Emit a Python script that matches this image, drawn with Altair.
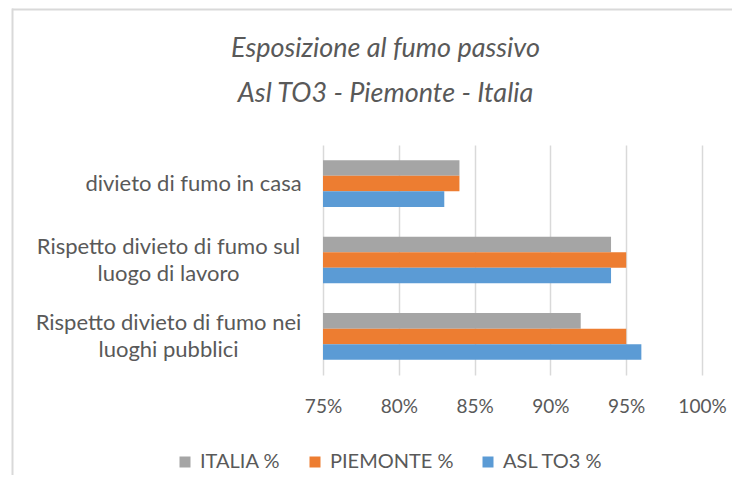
import altair as alt
import pandas as pd

# ---- data ----
categories = [
    "divieto di fumo in casa",
    "Rispetto divieto di fumo sul|luogo di lavoro",
    "Rispetto divieto di fumo nei|luoghi pubblici",
]
series = ["ITALIA %", "PIEMONTE %", "ASL TO3 %"]
italia = [84, 94, 92]
piemonte = [84, 95, 95]
asl_to3 = [83, 94, 96]
x_ticks = [75, 80, 85, 90, 95, 100]
colors = ["#A5A5A5", "#ED7D31", "#5B9BD5"]

rows = []
for vals, s in zip([italia, piemonte, asl_to3], series):
    for c, v in zip(categories, vals):
        rows.append({"categoria": c, "serie": s, "valore": v})
df = pd.DataFrame(rows)

FONT = "Lato"
TXT = "#595959"
TWO_LINE = "indexof(datum.value, '|') >= 0"

bars = alt.Chart(df).mark_bar().encode(
    y=alt.Y(
        "categoria:N",
        sort=categories,
        scale=alt.Scale(paddingInner=0.39, paddingOuter=0.2),
        axis=alt.Axis(
            title=None,
            domain=False,
            ticks=False,
            labelExpr="split(datum.label, '|')",
            labelAlign="center",
            labelBaseline="middle",
            labelPadding={"condition": {"test": TWO_LINE, "value": 155}, "value": 130},
            labelOffset={"condition": {"test": TWO_LINE, "value": -13.5}, "value": 0},
            labelLineHeight=27,
            labelLimit=400,
            labelFontSize=22,
            labelColor=TXT,
            labelFont=FONT,
        ),
    ),
    yOffset=alt.YOffset("serie:N", sort=series, scale=alt.Scale(paddingInner=0, paddingOuter=0)),
    x=alt.X(
        "valore:Q",
        scale=alt.Scale(domain=[75, 100], zero=False, nice=False),
        axis=alt.Axis(
            title=None,
            values=x_ticks,
            labelExpr="datum.value + '%'",
            domain=False,
            ticks=False,
            grid=True,
            gridColor="#D9D9D9",
            gridWidth=1.5,
            labelFontSize=19,
            labelColor=TXT,
            labelFont=FONT,
            labelPadding=22,
            labelFlush=False,
            labelOverlap=False,
        ),
    ),
    x2=alt.datum(75),
    color=alt.Color(
        "serie:N",
        sort=series,
        scale=alt.Scale(domain=series, range=colors),
        legend=alt.Legend(
            title=None,
            orient="none",
            direction="horizontal",
            legendX=-148,
            legendY=307,
            symbolType="square",
            symbolSize=121,
            symbolStrokeWidth=0,
            labelFontSize=20,
            labelFont=FONT,
            labelColor=TXT,
            columnPadding=24,
            labelOffset=5,
        ),
    ),
)

frame_df = pd.DataFrame({"k": [0]})
top_line = alt.Chart(frame_df).mark_rule(color="#D9D9D9", strokeWidth=2).encode(
    x=alt.value(-311), x2=alt.value(430), y=alt.value(-135.5)
)
left_line = alt.Chart(frame_df).mark_rule(color="#D9D9D9", strokeWidth=2).encode(
    x=alt.value(-310.5), y=alt.value(-136.5), y2=alt.value(350)
)

chart = alt.layer(top_line, left_line, bars).properties(
    width=379,
    height=230,
    padding={"left": 315, "top": 137, "right": 30, "bottom": 100},
    autosize=alt.AutoSizeParams(type="none"),
    title=alt.TitleParams(
        text=["Esposizione al fumo passivo", "Asl TO3 - Piemonte - Italia"],
        font=FONT,
        fontSize=27,
        fontStyle="italic",
        fontWeight="normal",
        color=TXT,
        anchor="middle",
        frame="group",
        dx=-127,
        lineHeight=45,
        offset=-100,
    ),
).configure_view(stroke=None)

chart.save("out.html", embed_options={"renderer": "svg", "actions": False})
